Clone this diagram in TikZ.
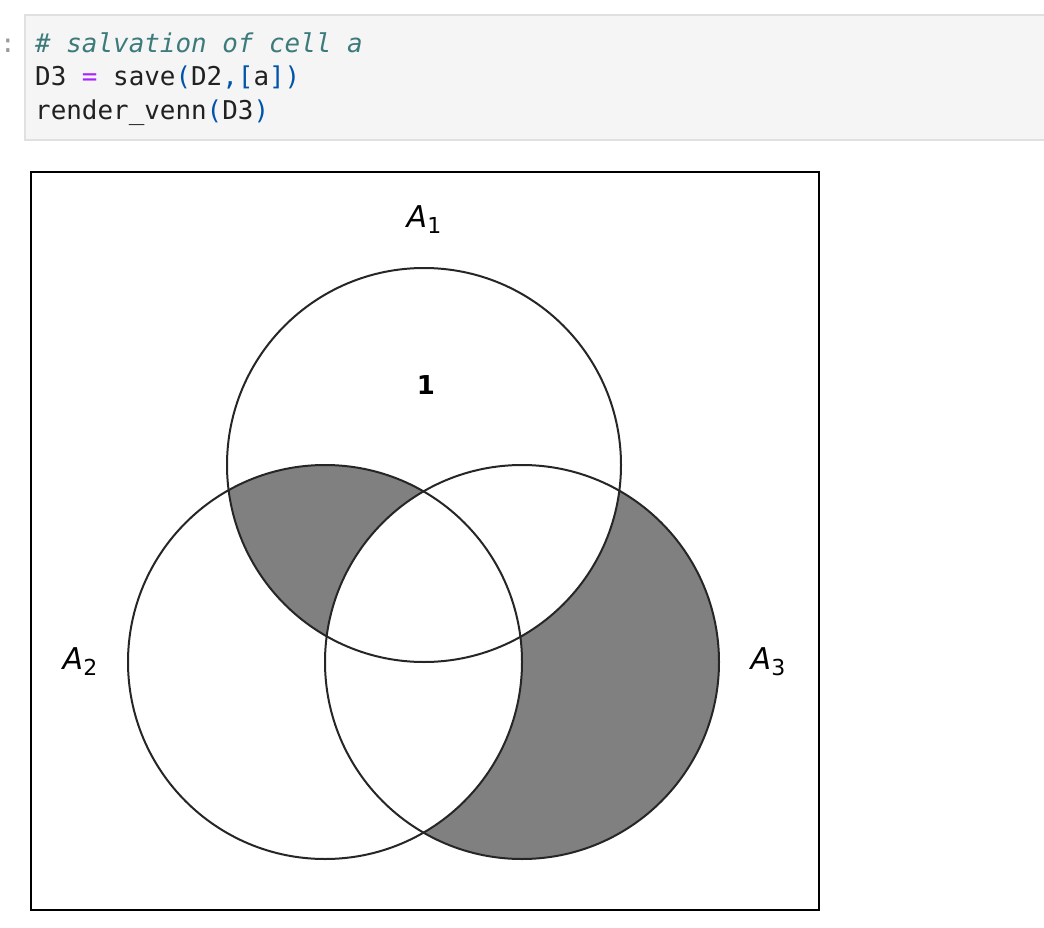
\documentclass[tikz,border=0pt]{standalone}
\usepackage{fontspec}
\newfontfamily\codefont{DejaVu Sans Mono}
\newfontfamily\mplfont{DejaVu Sans}
\definecolor{cellbg}{HTML}{F5F5F5}
\definecolor{cellrule}{HTML}{E0E0E0}
\definecolor{cmt}{HTML}{3D7B7B}
\definecolor{opr}{HTML}{AA22FF}
\definecolor{brk}{HTML}{0055AA}
\definecolor{ink}{HTML}{212121}
\definecolor{venngray}{HTML}{808080}
\newcommand{\setlbl}[1]{{\mplfont\fontsize{30}{30}\selectfont\itshape A\raisebox{-6pt}{\upshape\fontsize{22}{22}\selectfont #1}}}
\begin{document}
\begin{tikzpicture}[x=1pt,y=-1pt]
\tikzstyle{codeln} = [anchor=base west,inner sep=0pt,text=ink,font=\codefont\fontsize{25.9}{34}\selectfont] %code line
\tikzstyle{lbl} = [inner sep=0pt] %set label
\tikzstyle{ring} = [draw=black!85,line width=2pt] %circle outline
\useasboundingbox (0,0) rectangle (1044,928);
% notebook cell
\draw[fill=cellbg,draw=cellrule,line width=1.5pt](25,15)rectangle(1050,140);
\node[codeln,text=black!40](prompt)at(0,53){:};
\node[codeln](l1)at(35,53){\color{cmt}\itshape\# salvation of cell a};
\node[codeln](l2)at(35,86){D3 \textcolor{opr}{=} save\textcolor{brk}{(}D2\textcolor{brk}{,[}a\textcolor{brk}{])}};
\node[codeln](l3)at(35,120){render\_venn\textcolor{brk}{(}D3\textcolor{brk}{)}};
% venn diagram
\coordinate(c1)at(424,465);
\coordinate(c2)at(325,662);
\coordinate(c3)at(522,662);
\draw[black,line width=1.8pt](31,172)rectangle(819,910);
\fill[venngray](c3)circle(197);
\fill[white](c1)circle(197);
\fill[white](c2)circle(197);
\begin{scope}
\clip(c1)circle(197);
\clip(c2)circle(197);
\fill[venngray](c2)circle(197);
\fill[white](c3)circle(197);
\end{scope}
\draw[ring](c1)circle(197);
\draw[ring](c2)circle(197);
\draw[ring](c3)circle(197);
\node[lbl](a1)at(424,220){\setlbl{1}};
\node[lbl](a2)at(80,662){\setlbl{2}};
\node[lbl](a3)at(768,662){\setlbl{3}};
\node[lbl,font=\mplfont\bfseries\fontsize{26}{26}\selectfont](n1)at(426,385){1};
\end{tikzpicture}
\end{document}
